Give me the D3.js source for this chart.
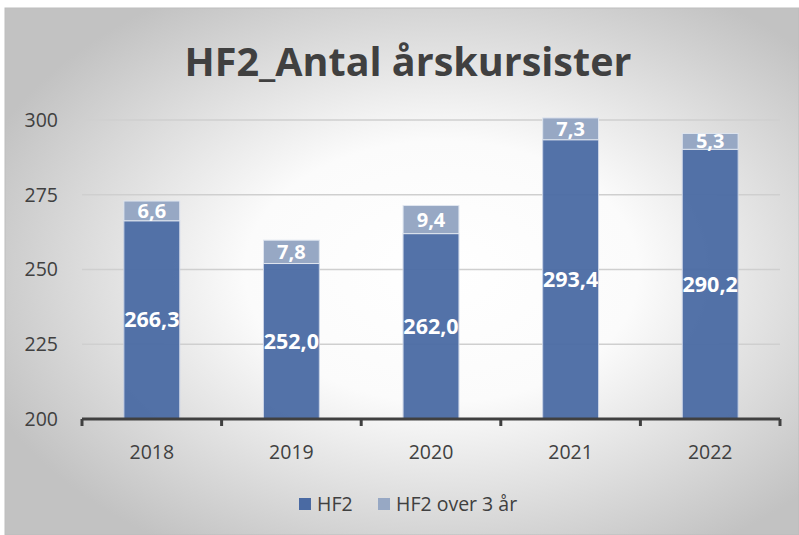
<!DOCTYPE html>
<html>
<head>
<meta charset="utf-8">
<script src="https://cdn.jsdelivr.net/npm/d3@7"></script>
<style>
  body { margin: 0; background: #fff; }
  svg text { font-family: "Open Sans", "Noto Sans", sans-serif; }
</style>
</head>
<body>
<div id="chart"></div>
<script>
var years = ["2018", "2019", "2020", "2021", "2022"];
var hf2 = [266.3, 252.0, 262.0, 293.4, 290.2];
var hf2Over3 = [6.6, 7.8, 9.4, 7.3, 5.3];
var yTicks = [200, 225, 250, 275, 300];
var seriesNames = ["HF2", "HF2 over 3 år"];
var colors = ["#4a6aa3", "#97a8c4"];

var width = 799, height = 535;
var margin = {top: 120, right: 19, bottom: 116, left: 82};

var svg = d3.select('#chart').append('svg')
  .attr('width', width)
  .attr('height', height);

// background gradient
var defs = svg.append('defs');
var grad = defs.append('radialGradient')
  .attr('id', 'bg')
  .attr('cx', '55%').attr('cy', '50%').attr('r', '62%');
grad.append('stop').attr('offset', '0%').attr('stop-color', '#ffffff');
grad.append('stop').attr('offset', '40%').attr('stop-color', '#fbfbfb');
grad.append('stop').attr('offset', '100%').attr('stop-color', '#c2c2c2');

svg.append('rect')
  .attr('x', 5).attr('y', 8)
  .attr('width', width - 5).attr('height', height - 8)
  .attr('fill', 'url(#bg)')
  .attr('stroke', '#bdbdbd')
  .attr('stroke-width', 1);

svg.append('text')
  .attr('x', 408).attr('y', 76)
  .attr('text-anchor', 'middle')
  .attr('font-size', 39.5)
  .attr('font-weight', 'bold')
  .attr('fill', '#404040')
  .text('HF2_Antal årskursister');

var innerW = width - margin.left - margin.right;
var innerH = height - margin.top - margin.bottom;

var x = d3.scaleBand().domain(years).range([0, innerW]).paddingInner(0.6).paddingOuter(0.3);
var y = d3.scaleLinear().domain([200, 300]).range([innerH, 0]);

var g = svg.append('g')
  .attr('transform', 'translate(' + margin.left + ',' + margin.top + ')');

// gridlines
g.selectAll('.grid')
  .data(yTicks.slice(1))
  .enter().append('line')
  .attr('x1', 0).attr('x2', innerW)
  .attr('y1', function(d) { return y(d); })
  .attr('y2', function(d) { return y(d); })
  .attr('stroke', '#cfcfcf')
  .attr('stroke-width', 1.5);

// y labels
g.selectAll('.ylab')
  .data(yTicks)
  .enter().append('text')
  .attr('x', -24)
  .attr('y', function(d) { return y(d); })
  .attr('dy', '0.35em')
  .attr('text-anchor', 'end')
  .attr('font-size', 19.5)
  .attr('fill', '#404040')
  .text(function(d) { return d; });

var data = years.map(function(yr, i) {
  return {year: yr, a: hf2[i], b: hf2Over3[i]};
});

var fmt = function(v) { return v.toFixed(1).replace('.', ','); };

// bottom segment
g.selectAll('.barA')
  .data(data)
  .enter().append('rect')
  .attr('x', function(d) { return x(d.year); })
  .attr('y', function(d) { return y(d.a); })
  .attr('width', x.bandwidth())
  .attr('height', function(d) { return innerH - y(d.a); })
  .attr('fill', colors[0])
  .attr('fill-opacity', 0.95)
  .attr('stroke', '#c9d3e6')
  .attr('stroke-width', 1);

// top segment
g.selectAll('.barB')
  .data(data)
  .enter().append('rect')
  .attr('x', function(d) { return x(d.year); })
  .attr('y', function(d) { return y(d.a + d.b); })
  .attr('width', x.bandwidth())
  .attr('height', function(d) { return y(d.a) - y(d.a + d.b); })
  .attr('fill', colors[1])
  .attr('stroke', '#dfe5ef')
  .attr('stroke-width', 1);

// labels
g.selectAll('.labA')
  .data(data)
  .enter().append('text')
  .attr('x', function(d) { return x(d.year) + x.bandwidth() / 2; })
  .attr('y', function(d) { return (y(d.a) + innerH) / 2; })
  .attr('dy', '0.35em')
  .attr('text-anchor', 'middle')
  .attr('font-size', 21.5)
  .attr('font-weight', 'bold')
  .attr('fill', '#fff')
  .text(function(d) { return fmt(d.a); });

g.selectAll('.labB')
  .data(data)
  .enter().append('text')
  .attr('x', function(d) { return x(d.year) + x.bandwidth() / 2; })
  .attr('y', function(d) { return (y(d.a) + y(d.a + d.b)) / 2; })
  .attr('dy', '0.35em')
  .attr('text-anchor', 'middle')
  .attr('font-size', 20)
  .attr('font-weight', 'bold')
  .attr('fill', '#fff')
  .text(function(d) { return fmt(d.b); });

// x axis line and ticks
g.append('line')
  .attr('x1', 0).attr('x2', innerW)
  .attr('y1', innerH).attr('y2', innerH)
  .attr('stroke', '#404040')
  .attr('stroke-width', 3);

var bounds = d3.range(years.length + 1).map(function(i) { return i * innerW / years.length; });
g.selectAll('.xtick')
  .data(bounds)
  .enter().append('line')
  .attr('x1', function(d) { return d; })
  .attr('x2', function(d) { return d; })
  .attr('y1', innerH).attr('y2', innerH + 7)
  .attr('stroke', '#404040')
  .attr('stroke-width', 3);

g.selectAll('.xlab')
  .data(years)
  .enter().append('text')
  .attr('x', function(d) { return x(d) + x.bandwidth() / 2; })
  .attr('y', innerH + 33)
  .attr('dy', '0.35em')
  .attr('text-anchor', 'middle')
  .attr('font-size', 19.5)
  .attr('fill', '#404040')
  .text(function(d) { return d; });

// legend
var legend = svg.append('g').attr('transform', 'translate(299,504)');
var lx = [0, 79];
seriesNames.forEach(function(name, i) {
  legend.append('rect')
    .attr('x', lx[i]).attr('y', -6)
    .attr('width', 12).attr('height', 12)
    .attr('fill', colors[i]);
  legend.append('text')
    .attr('x', lx[i] + 18).attr('y', 0)
    .attr('dy', '0.35em')
    .attr('font-size', 19.5)
    .attr('fill', '#404040')
    .text(name);
});
</script>
</body>
</html>
